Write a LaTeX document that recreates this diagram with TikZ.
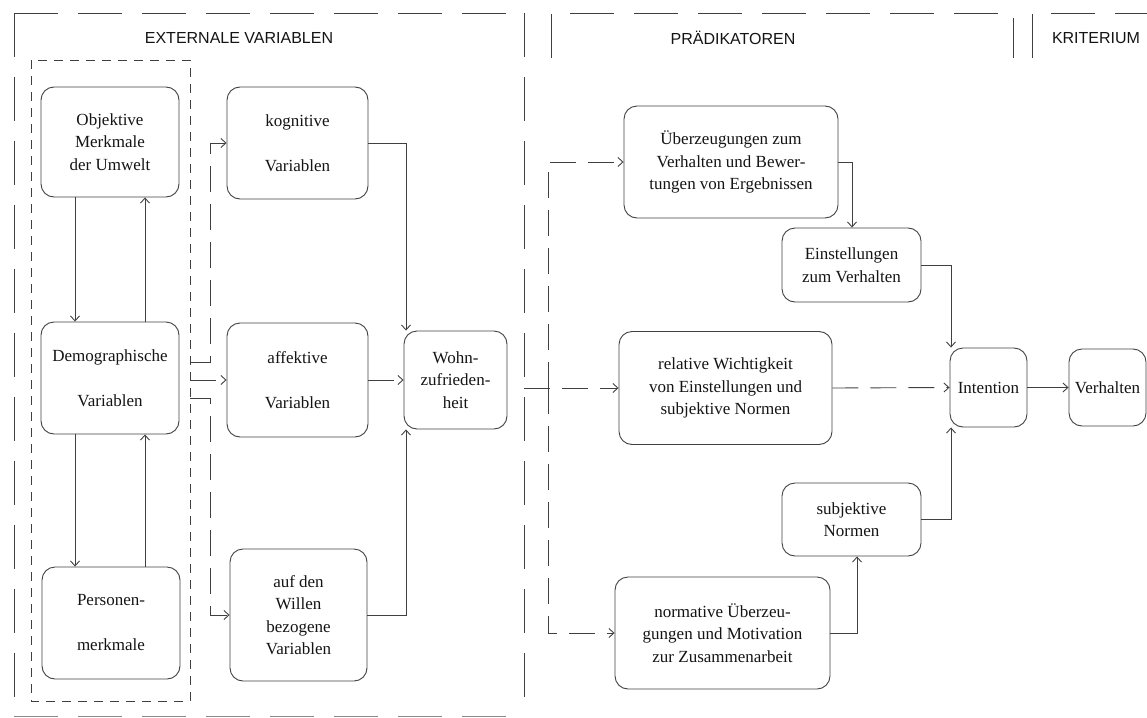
\documentclass[tikz,border=0pt]{standalone}
\usepackage{fontspec}
\setmainfont{Liberation Serif}
\newfontfamily\titlefont{Liberation Sans}
\usetikzlibrary{arrows.meta}
\definecolor{lc}{gray}{0.25}
\definecolor{tc}{gray}{0.08}
\begin{document}
\begin{tikzpicture}[x=1pt,y=-1pt,
  box/.style={draw=lc, line width=0.9pt, rounded corners=13pt, align=center, inner sep=2pt,
    font=\fontsize{17}{22.5}\selectfont, text=tc},
  arr/.style={draw=lc, line width=0.9pt, -{Straight Barb[length=5pt,width=9pt]}},
  darr/.style={arr, dash pattern=on 26pt off 12pt},
  frame/.style={draw=lc, line width=0.9pt, dash pattern=on 44pt off 20pt},
  innerframe/.style={draw=lc, line width=0.9pt, dash pattern=on 9pt off 7pt},
  ttl/.style={font=\titlefont\fontsize{16}{19}\selectfont, text=tc}
]
\useasboundingbox (0,0) rectangle (1147,717);

% frames
\draw[frame] (14,13) -- (524,13);
\draw[frame] (14,13) -- (14,716);
\draw[frame] (524,13) -- (524,716);
\draw[frame, draw=lc!60] (14,716) -- (524,716);
\draw[frame] (551,58) -- (551,13) -- (1013,13) -- (1013,58);
\draw[frame] (1032,58) -- (1032,13) -- (1147,13);
\draw[innerframe] (31,60) rectangle (190,701);

% titles
\node[ttl] (t1) at (239,38) {EXTERNALE VARIABLEN};
\node[ttl] (t2) at (733,38) {PRÄDIKATOREN};
\node[ttl] (t3) at (1096,38) {KRITERIUM};

% external variables
\node[box, minimum width=138pt, minimum height=110pt] (obj) at (110,142) {Objektive\\Merkmale\\der Umwelt};
\node[box, minimum width=138pt, minimum height=112pt] (demo) at (110,378) {Demographische\\[22.5pt]Variablen};
\node[box, minimum width=138pt, minimum height=112pt] (pers) at (111,623) {Personen-\\[22.5pt]merkmale};
\node[box, minimum width=141pt, minimum height=112pt] (kog) at (297.5,143) {kognitive\\[22.5pt]Variablen};
\node[box, minimum width=141pt, minimum height=114pt] (aff) at (297.5,380) {affektive\\[22.5pt]Variablen};
\node[box, minimum width=137pt, minimum height=132pt] (will) at (298.5,615) {auf den\\Willen\\bezogene\\Variablen};
\node[box, minimum width=103pt, minimum height=98pt] (wohn) at (455.5,380) {Wohn-\\zufrieden-\\heit};

% predictors
\node[box, minimum width=214pt, minimum height=112pt] (ueb) at (731,162) {Überzeugungen zum\\Verhalten und Bewer-\\tungen von Ergebnissen};
\node[box, minimum width=139pt, minimum height=74pt] (einst) at (851.5,265) {Einstellungen\\zum Verhalten};
\node[box, minimum width=213pt, minimum height=113pt] (rel) at (725.5,388) {relative Wichtigkeit\\von Einstellungen und\\subjektive Normen};
\node[box, minimum width=139pt, minimum height=73pt] (subj) at (851.5,519.5) {subjektive\\Normen};
\node[box, minimum width=215pt, minimum height=112pt] (norm) at (722.5,633) {normative Überzeu-\\gungen und Motivation\\zur Zusammenarbeit};
\node[box, minimum width=77pt, minimum height=79pt] (int) at (988.5,387.5) {Intention};
\node[box, minimum width=77pt, minimum height=77pt] (verh) at (1107.5,387.5) {Verhalten};

% helper coordinates
\coordinate (cA) at (75,0);
\coordinate (cB) at (145,0);
\coordinate (cV) at (210,0);
\coordinate (cW) at (406,0);
\coordinate (s1) at (190,362);
\coordinate (s2) at (190,380);
\coordinate (s3) at (190,398);
\coordinate (hub) at (524,388);
\coordinate (cP) at (548,0);
\coordinate (cE) at (852,0);
\coordinate (cI) at (951,0);
\coordinate (cS) at (857,0);

% left connectors
\draw[arr] (cA |- obj.south) -- (cA |- demo.north);
\draw[arr] (cB |- demo.north) -- (cB |- obj.south);
\draw[arr] (cA |- demo.south) -- (cA |- pers.north);
\draw[arr] (cB |- pers.north) -- (cB |- demo.south);

\draw[darr] (s1) -- (cV |- s1) |- (kog.west);
\draw[darr] (s2) -- (aff.west);
\draw[darr] (s3) -- (cV |- s3) |- (will.west);

\draw[arr] (kog.east) -| (cW |- wohn.north);
\draw[darr] (aff.east) -- (wohn.west);
\draw[arr] (will.east) -| (cW |- wohn.south);

% to predictors
\draw[darr] (hub) -- (rel.west);
\draw[darr] (cP |- rel.west) |- (ueb.west);
\draw[darr] (cP |- rel.west) |- (norm.west);

\draw[arr] (ueb.east) -| (cE |- einst.north);
\draw[arr] (einst.east) -| (cI |- int.north);
\draw[darr] (rel.east) -- (int.west);
\draw[arr] (norm.east) -| (cS |- subj.south);
\draw[arr] (subj.east) -| (cI |- int.south);
\draw[arr] (int.east) -- (verh.west);
\end{tikzpicture}
\end{document}
